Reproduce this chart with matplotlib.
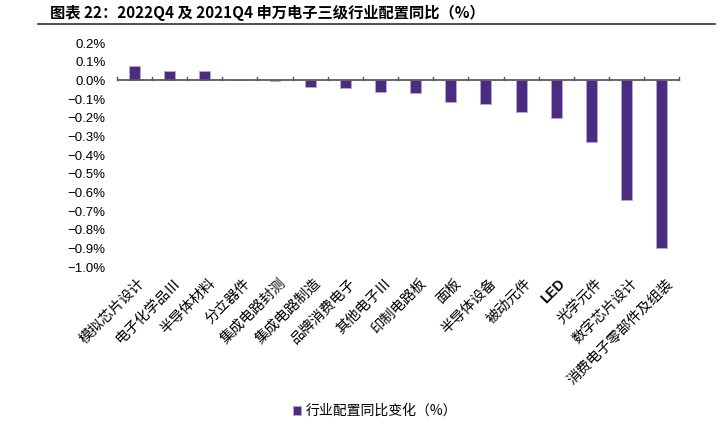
import matplotlib
matplotlib.use("Agg")
import matplotlib.pyplot as plt
import numpy as np

plt.rcParams['font.family'] = ['Noto Sans CJK SC', 'DejaVu Sans']

categories = ["模拟芯片设计", "电子化学品Ⅲ", "半导体材料", "分立器件", "集成电路封测",
              "集成电路制造", "品牌消费电子", "其他电子Ⅲ", "印制电路板", "面板",
              "半导体设备", "被动元件", "LED", "光学元件", "数字芯片设计",
              "消费电子零部件及组装"]
values = [0.078, 0.052, 0.049, 0.002, -0.001, -0.036, -0.039, -0.062, -0.065,
          -0.115, -0.126, -0.169, -0.201, -0.329, -0.642, -0.897]
yticks = [0.2, 0.1, 0.0, -0.1, -0.2, -0.3, -0.4, -0.5, -0.6, -0.7, -0.8, -0.9, -1.0]
series_name = "行业配置同比变化（%）"
title = "图表 22：2022Q4 及 2021Q4 申万电子三级行业配置同比（%）"

color = "#4B2C80"

fig = plt.figure(figsize=(7.25, 4.26), dpi=100)
ax = fig.add_axes([0.161, 0.373, 0.776, 0.526])

x = np.arange(len(categories))
bars = ax.bar(x, values, width=0.31, color=color, edgecolor="#b9a8d8", linewidth=0.6,
              label=series_name)

ax.set_xlim(-0.5, len(categories) - 0.5)
ax.set_ylim(-1.0, 0.2)
ax.set_yticks(yticks)
ax.set_yticklabels([f"{v:.1f}%".replace("-", "−") for v in yticks], fontsize=9.5,
                   family=['Liberation Sans', 'DejaVu Sans'])
ax.tick_params(axis='y', length=0, pad=8)

for s in ['top', 'right', 'left', 'bottom']:
    ax.spines[s].set_visible(False)

ax.axhline(0, color="#5a5a5a", linewidth=1.3, zorder=3)
# category boundary ticks on zero line
for b in np.arange(-0.5, len(categories), 1.0):
    ax.plot([b, b], [0, 0.02], color="#5a5a5a", linewidth=1.0, zorder=3, clip_on=False)

ax.set_xticks([])
trans = ax.get_xaxis_transform()
for xi, lab in zip(x, categories):
    if lab == "LED":
        ax.text(xi + 0.05, -0.045, lab, transform=trans, rotation=45, ha='right', va='top',
                rotation_mode='anchor', fontsize=10, fontweight='bold',
                family=['Liberation Sans', 'DejaVu Sans'])
    else:
        ax.text(xi + 0.1, -0.04, lab, transform=trans, rotation=45, ha='right', va='top',
                rotation_mode='anchor', fontsize=10.3)

fig.text(50 / 725, 1 - 13 / 426, title, fontsize=11, fontweight='bold', ha='left', va='center')
fig.add_artist(plt.Line2D([38 / 725, 715 / 725], [1 - 23.5 / 426, 1 - 23.5 / 426],
                          color='#333333', linewidth=1.2))

leg = fig.legend(handles=[bars], labels=[series_name], loc='center',
                 bbox_to_anchor=(375 / 725, 1 - 411 / 426),
                 frameon=False, fontsize=10, handlelength=0.6, handleheight=0.6,
                 handletextpad=0.3)

fig.savefig("out.png", dpi=100)
